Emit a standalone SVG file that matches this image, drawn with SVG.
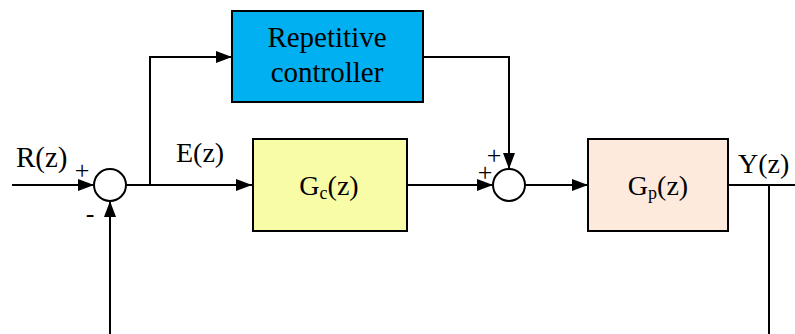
<svg xmlns="http://www.w3.org/2000/svg" width="795" height="334" viewBox="0 0 795 334">
<style>
.box{stroke:#000;stroke-width:2}
.ln{fill:none;stroke:#000;stroke-width:2}
.sum{fill:#fff;stroke:#000;stroke-width:2}
text{font-family:"Liberation Serif","Times New Roman",serif;fill:#000}
.lbl{font-size:28px}
.big{font-size:29px}
.sg{font-size:26px}
</style>
<defs>
<marker id="ah" viewBox="0 0 16 12" refX="16" refY="6" markerWidth="16" markerHeight="12" markerUnits="userSpaceOnUse" orient="auto">
<path d="M0,0 L16,6 L0,12 Z" fill="#000"/>
</marker>
</defs>
<g id="connectors">
<line class="ln" x1="12" y1="185" x2="94" y2="185" marker-end="url(#ah)"/>
<line class="ln" x1="126" y1="185" x2="252" y2="185" marker-end="url(#ah)"/>
<polyline class="ln" points="150,185 150,57 232,57" marker-end="url(#ah)"/>
<polyline class="ln" points="423,57 509,57 509,169" marker-end="url(#ah)"/>
<line class="ln" x1="407" y1="185" x2="493" y2="185" marker-end="url(#ah)"/>
<line class="ln" x1="525" y1="185" x2="588" y2="185" marker-end="url(#ah)"/>
<line class="ln" x1="728" y1="185" x2="795" y2="185"/>
<polyline class="ln" points="769,185 769,334"/>
<line class="ln" x1="110" y1="334" x2="110" y2="201" marker-end="url(#ah)"/>
</g>
<g id="sum1">
<circle class="sum" cx="110" cy="185" r="16"/>
<text class="sg" x="82" y="179" text-anchor="middle">+</text>
<text class="sg" x="90" y="222" text-anchor="middle">-</text>
</g>
<g id="sum2">
<circle class="sum" cx="509" cy="185" r="16"/>
<text class="sg" x="494" y="164" text-anchor="middle">+</text>
<text class="sg" x="485" y="181" text-anchor="middle">+</text>
</g>
<g id="repetitive">
<rect class="box" x="232" y="11" width="191" height="91" fill="#00B0F0"/>
<text class="big" x="327" y="47" text-anchor="middle">Repetitive</text>
<text class="big" x="327" y="82" text-anchor="middle">controller</text>
</g>
<g id="gc">
<rect class="box" x="253" y="139" width="154" height="92" fill="#F8FCA6"/>
<text class="lbl" x="329" y="195" text-anchor="middle">G<tspan font-size="18" dy="4">c</tspan><tspan dy="-4">(z)</tspan></text>
</g>
<g id="gp">
<rect class="box" x="588" y="139" width="140" height="92" fill="#FDEADC"/>
<text class="lbl" x="658" y="195" text-anchor="middle">G<tspan font-size="18" dy="4">p</tspan><tspan dy="-4">(z)</tspan></text>
</g>
<g id="labels">
<text class="big" x="16" y="167">R(z)</text>
<text class="lbl" x="176" y="162">E(z)</text>
<text class="lbl" x="738" y="173">Y(z)</text>
</g>
</svg>
